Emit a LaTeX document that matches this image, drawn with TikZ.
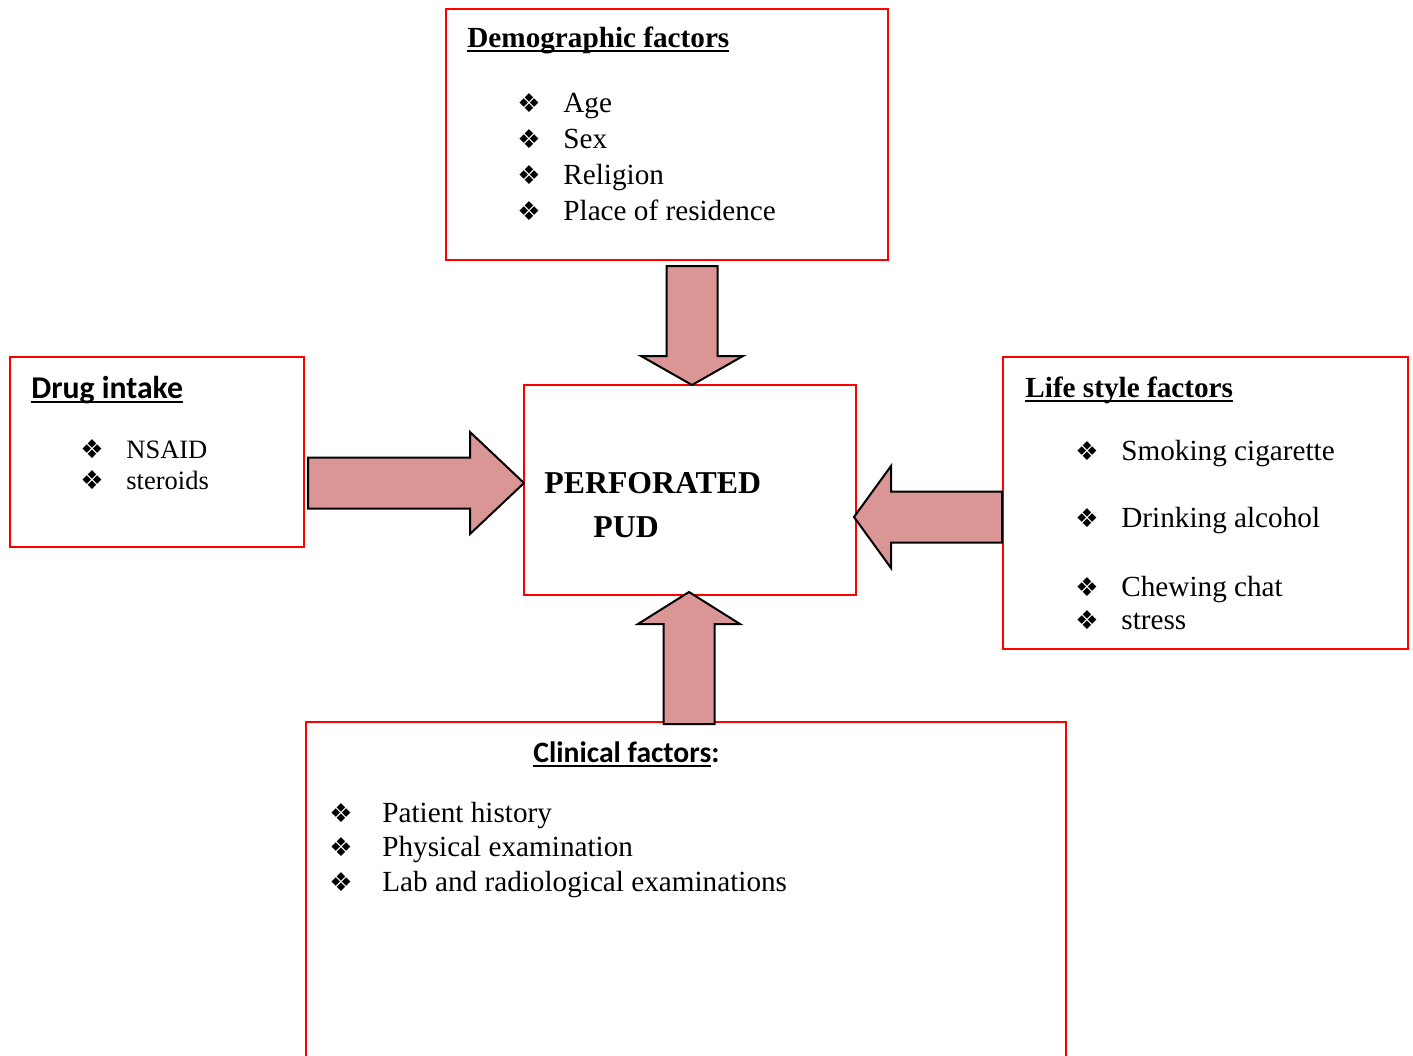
\documentclass[tikz,border=0pt]{standalone}
\usepackage{fontspec}
\setmainfont{Liberation Serif}
\newfontfamily\calib{Carlito}
\newfontfamily\symb{DejaVu Sans}
\usepackage{xcolor}
\usetikzlibrary{calc}
\definecolor{arrowpink}{RGB}{217,150,148}

\newsavebox\ulbox
\newcommand{\uln}[1]{\sbox\ulbox{#1}\rlap{\rule[-2.4pt]{\wd\ulbox}{1pt}}\usebox\ulbox}
\newcommand{\bul}[2][23pt]{\makebox[#1][l]{\symb\fontsize{13}{13}\selectfont\char"2756}#2}
\newcommand{\fatarrow}[3]{%
  \coordinate (hb) at ($(#2)!#3!(#1)$);
  \draw [blockarrow] ($(#1)!12.75pt!90:(#2)$) -- ($(hb)!12.75pt!90:(#2)$) -- ($(hb)!25.5pt!90:(#2)$) -- (#2)
    -- ($(hb)!25.5pt!-90:(#2)$) -- ($(hb)!12.75pt!-90:(#2)$) -- ($(#1)!12.75pt!-90:(#2)$) -- cycle;}

\tikzset{
  redbox/.style={draw=red, line width=1pt, inner sep=0pt, outer sep=0pt, anchor=north west},
  blockarrow/.style={draw=black, line width=1pt, fill=arrowpink, line join=miter},
  txt/.style={anchor=base west, inner sep=0pt},
  big/.style={txt, font=\fontsize{14.6}{17}\selectfont},
  small/.style={txt, font=\fontsize{13.25}{16}\selectfont}
}

\begin{document}
\begin{tikzpicture}[x=0.5pt, y=-0.5pt]
\useasboundingbox (0,0) rectangle (1413,1055);

\node [redbox, minimum width=221pt, minimum height=125.5pt] (demo) at (446,9) {};
\node [redbox, minimum width=147pt, minimum height=95pt] (drug) at (10,357) {};
\node [redbox, minimum width=166pt, minimum height=105pt] (pud) at (524,385) {};
\node [redbox, minimum width=202.5pt, minimum height=146pt] (life) at (1003,357) {};
\node [redbox, minimum width=380pt, minimum height=174pt] (clin) at (306,722) {};

\node [big, font=\fontsize{14.6}{17}\selectfont\bfseries] (demohead) at (467,47) {\uln{Demographic factors}};
\node [big] (age) at (517,112) {\bul{Age}};
\node [big] (sex) at (517,148) {\bul{Sex}};
\node [big] (religion) at (517,184) {\bul{Religion}};
\node [big] (residence) at (517,220) {\bul{Place of residence}};

\node [txt, font=\fontsize{15.85}{18}\selectfont\calib\bfseries] (drughead) at (31,398) {\uln{Drug intake}};
\node [small] (nsaid) at (80,458) {\bul{NSAID}};
\node [small] (steroids) at (80,489) {\bul{steroids}};

\node [txt, font=\fontsize{15.9}{18}\selectfont\bfseries] (perf) at (544,493) {PERFORATED};
\node [txt, font=\fontsize{15.9}{18}\selectfont\bfseries] (pudtxt) at (593,537) {PUD};

\node [big, font=\fontsize{14.6}{17}\selectfont\bfseries] (lifehead) at (1025,397) {\uln{Life style factors}};
\node [big] (smoking) at (1075,460) {\bul{Smoking cigarette}};
\node [big] (alcohol) at (1075,527) {\bul{Drinking alcohol}};
\node [big] (chat) at (1075,596) {\bul{Chewing chat}};
\node [big] (stress) at (1075,629) {\bul{stress}};

\node [txt, font=\fontsize{14.8}{18}\selectfont\calib\bfseries] (clinhead) at (533,762) {\uln{Clinical factors}:};
\node [big] (history) at (329,822) {\bul[26.5pt]{Patient history}};
\node [big] (physical) at (329,856) {\bul[26.5pt]{Physical examination}};
\node [big] (lab) at (329,891) {\bul[26.5pt]{Lab and radiological examinations}};

\coordinate (demoout) at (692,266);
\coordinate (demoin) at (demoout |- pud.north);
\coordinate (drugout) at (308,483);
\coordinate (drugin) at (drugout -| pud.west);
\coordinate (lifeout) at (1002,517);
\coordinate (lifein) at ($(lifeout -| pud.east)+(-2,0)$);
\coordinate (clinout) at (689,724);
\coordinate (clinin) at ($(clinout |- pud.south)+(0,-3)$);

\fatarrow{demoout}{demoin}{14.5pt}
\fatarrow{drugout}{drugin}{27pt}
\fatarrow{lifeout}{lifein}{18.5pt}
\fatarrow{clinout}{clinin}{16pt}
\end{tikzpicture}
\end{document}
